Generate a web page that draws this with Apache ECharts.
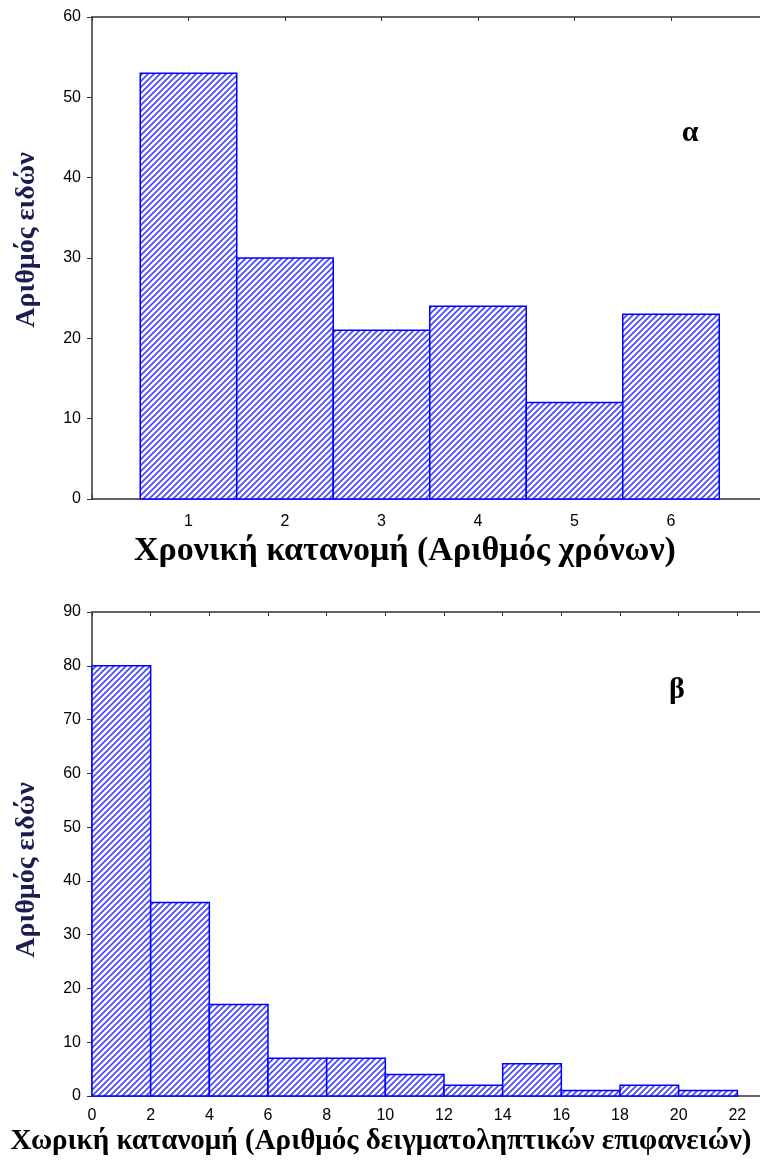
<!DOCTYPE html>
<html>
<head>
<meta charset="utf-8">
<style>
  html, body { margin: 0; padding: 0; background: #fff; }
  #chart { width: 760px; height: 1169px; }
</style>
<script src="https://cdn.jsdelivr.net/npm/echarts@6/dist/echarts.min.js"></script>
</head>
<body>
<div id="chart"></div>
<script>
// Panel α: temporal distribution (number of years a species was recorded)
const yearsCategories = [1, 2, 3, 4, 5, 6];
const yearsCounts = [53, 30, 21, 24, 12, 23];
const yearsTicks = [0, 10, 20, 30, 40, 50, 60];

// Panel β: spatial distribution (number of sampling surfaces), bins of width 2
const surfaceEdges = [0, 2, 4, 6, 8, 10, 12, 14, 16, 18, 20, 22];
const surfaceCounts = [80, 36, 17, 7, 7, 4, 2, 6, 1, 2, 1];
const surfaceTicks = [0, 10, 20, 30, 40, 50, 60, 70, 80, 90];

const panelLabels = ['α', 'β'];
const yTitle = 'Αριθμός ειδών';
const xTitles = ['Χρονική κατανομή (Αριθμός χρόνων)', 'Χωρική κατανομή (Αριθμός δειγματοληπτικών επιφανειών)'];

// diagonal hatch fill
function hatchCanvas() {
  const s = 6;
  const c = document.createElement('canvas');
  c.width = s; c.height = s;
  const g = c.getContext('2d');
  g.fillStyle = '#ffffff';
  g.fillRect(0, 0, s, s);
  g.strokeStyle = '#4444ff';
  g.lineWidth = 1.6;
  g.beginPath();
  g.moveTo(-1, s + 1); g.lineTo(s + 1, -1);
  g.moveTo(-1, 1); g.lineTo(1, -1);
  g.moveTo(s - 1, s + 1); g.lineTo(s + 1, s - 1);
  g.stroke();
  return c;
}
const hatch = { image: hatchCanvas(), repeat: 'repeat' };

const yearsBins = yearsCategories.map((v, i) => [v - 0.5, v + 0.5, yearsCounts[i]]);
const surfaceBins = surfaceCounts.map((v, i) => [surfaceEdges[i], surfaceEdges[i + 1], v]);

function renderBin(params, api) {
  const p0 = api.coord([api.value(0), 0]);
  const p1 = api.coord([api.value(1), api.value(2)]);
  return {
    type: 'rect',
    shape: { x: p0[0], y: p1[1], width: p1[0] - p0[0], height: p0[1] - p1[1] },
    style: { fill: hatch, stroke: '#0000ff', lineWidth: 1.5 }
  };
}

const axisLine = { show: true, lineStyle: { color: '#333', width: 1.5 } };
const labelFont = { color: '#000', fontFamily: 'Liberation Sans, Arial', fontSize: 16 };
const serifBold = { fontFamily: 'Liberation Serif, Times New Roman', fontWeight: 'bold' };

function bottomAxis(gridIndex, min, max, interval, hideMin, margin) {
  return {
    type: 'value', gridIndex, min, max, interval, position: 'bottom',
    axisLine, splitLine: { show: false },
    axisTick: { show: true, inside: true, length: 4, lineStyle: { color: '#333' } },
    axisLabel: Object.assign({}, labelFont, {
      margin,
      formatter: v => ((hideMin && v === min) || v === max) ? '' : String(v)
    })
  };
}
function topAxis(gridIndex, min, max, interval) {
  return {
    type: 'value', gridIndex, min, max, interval, position: 'top',
    axisLine, splitLine: { show: false },
    axisTick: { show: true, inside: true, length: 4, lineStyle: { color: '#333' } },
    axisLabel: { show: false }
  };
}
function leftAxis(gridIndex, ticks) {
  return {
    type: 'value', gridIndex, min: ticks[0], max: ticks[ticks.length - 1],
    interval: ticks[1] - ticks[0],
    axisLine, splitLine: { show: false },
    axisTick: { show: true, length: 5, lineStyle: { color: '#333' } },
    axisLabel: Object.assign({}, labelFont, { margin: 11 })
  };
}

const option = {
  animation: false,
  backgroundColor: '#fff',
  grid: [
    { left: 92, top: 17, width: 675.5, height: 482, outerBoundsMode: 'none', containLabel: false },
    { left: 92, top: 612, width: 704, height: 484, outerBoundsMode: 'none', containLabel: false }
  ],
  xAxis: [
    bottomAxis(0, 0, 7, 1, true, 15),
    topAxis(0, 0, 7, 1),
    bottomAxis(1, 0, 24, 2, false, 12),
    topAxis(1, 0, 24, 2)
  ],
  yAxis: [leftAxis(0, yearsTicks), leftAxis(1, surfaceTicks)],
  series: [
    { type: 'custom', xAxisIndex: 0, yAxisIndex: 0, renderItem: renderBin, data: yearsBins, encode: { x: [0, 1], y: 2 } },
    { type: 'custom', xAxisIndex: 2, yAxisIndex: 1, renderItem: renderBin, data: surfaceBins, encode: { x: [0, 1], y: 2 } }
  ],
  graphic: [
    { type: 'text', x: 690, y: 133, style: Object.assign({ text: panelLabels[0], fontSize: 30, fill: '#000', align: 'center', verticalAlign: 'middle' }, serifBold) },
    { type: 'text', x: 677, y: 690, style: Object.assign({ text: panelLabels[1], fontSize: 30, fill: '#000', align: 'center', verticalAlign: 'middle' }, serifBold) },
    { type: 'text', x: 27, y: 240, rotation: Math.PI / 2, style: Object.assign({ text: yTitle, fontSize: 28, fill: '#1c1c50', align: 'center', verticalAlign: 'middle' }, serifBold) },
    { type: 'text', x: 27, y: 870, rotation: Math.PI / 2, style: Object.assign({ text: yTitle, fontSize: 28, fill: '#1c1c50', align: 'center', verticalAlign: 'middle' }, serifBold) },
    { type: 'text', x: 405, y: 551, style: Object.assign({ text: xTitles[0], fontSize: 34, fill: '#000', align: 'center', verticalAlign: 'middle' }, serifBold) },
    { type: 'text', x: 381, y: 1142, style: Object.assign({ text: xTitles[1], fontSize: 29, fill: '#000', align: 'center', verticalAlign: 'middle' }, serifBold) }
  ]
};

const chart = echarts.init(document.getElementById('chart'), null, { renderer: 'canvas' });
chart.setOption(option);
</script>
</body>
</html>
